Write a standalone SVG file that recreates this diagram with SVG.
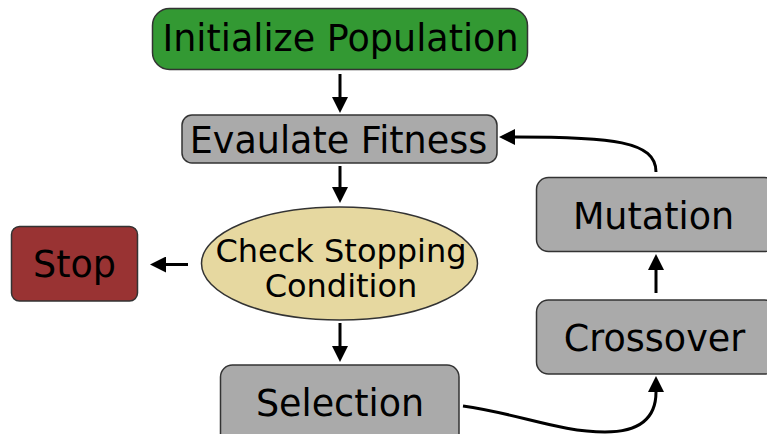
<svg xmlns="http://www.w3.org/2000/svg" width="767" height="434" viewBox="0 0 767 434">
<defs>
<style>
.box{stroke:#333333;stroke-width:1.5}
.gray{fill:#aaaaaa}
.t{font-family:"DejaVu Sans",Verdana,sans-serif;font-size:36.5px;fill:#000000;text-anchor:middle}
.te{font-family:"DejaVu Sans",Verdana,sans-serif;font-size:32px;fill:#000000;text-anchor:middle}
.c{fill:none;stroke:#000000;stroke-width:3}
</style>
<marker id="ah" markerUnits="userSpaceOnUse" markerWidth="16" markerHeight="16" viewBox="0 0 14 14" refX="0" refY="7" orient="auto">
<path d="M0,0 L14,7 L0,14 Z" fill="#000000"/>
</marker>
</defs>
<rect width="767" height="434" fill="#ffffff"/>
<g id="init">
<rect class="box" x="152.5" y="8.5" width="375" height="61" rx="17" fill="#339933"/>
<text class="t" x="340.5" y="51">Initialize Population</text>
</g>
<g id="evaluate">
<rect class="box gray" x="182" y="115" width="315" height="48" rx="10"/>
<text class="t" x="338.5" y="152.5">Evaulate Fitness</text>
</g>
<g id="check">
<ellipse class="box" cx="339.5" cy="263.5" rx="138" ry="56.5" fill="#e6d8a0"/>
<text class="te" x="341" y="262">Check Stopping</text>
<text class="te" x="341" y="297">Condition</text>
</g>
<g id="stop">
<rect class="box" x="11.5" y="226.5" width="126" height="74.5" rx="8" fill="#993333"/>
<text class="t" x="74.5" y="277">Stop</text>
</g>
<g id="selection">
<rect class="box gray" x="220.5" y="365" width="238.5" height="90" rx="12"/>
<text class="t" x="340" y="415.5">Selection</text>
</g>
<g id="crossover">
<rect class="box gray" x="536.5" y="300" width="240" height="74" rx="12"/>
<text class="t" x="654.5" y="350.5">Crossover</text>
</g>
<g id="mutation">
<rect class="box gray" x="536.5" y="177.5" width="240" height="74" rx="12"/>
<text class="t" x="653.5" y="228.5">Mutation</text>
</g>
<g id="connectors">
<path class="c" d="M340,74 L340,97" marker-end="url(#ah)"/>
<path class="c" d="M340,166 L340,187" marker-end="url(#ah)"/>
<path class="c" d="M188,264.5 L166,264.5" marker-end="url(#ah)"/>
<path class="c" d="M340,323 L340,346" marker-end="url(#ah)"/>
<path class="c" d="M656,293 L656,270" marker-end="url(#ah)"/>
<path class="c" d="M656,172 C656,141 612,137 515,137" marker-end="url(#ah)"/>
<path class="c" d="M463,406 C520,414 560,432 605,432 C640,432 656,418 656,392" marker-end="url(#ah)"/>
</g>
</svg>
